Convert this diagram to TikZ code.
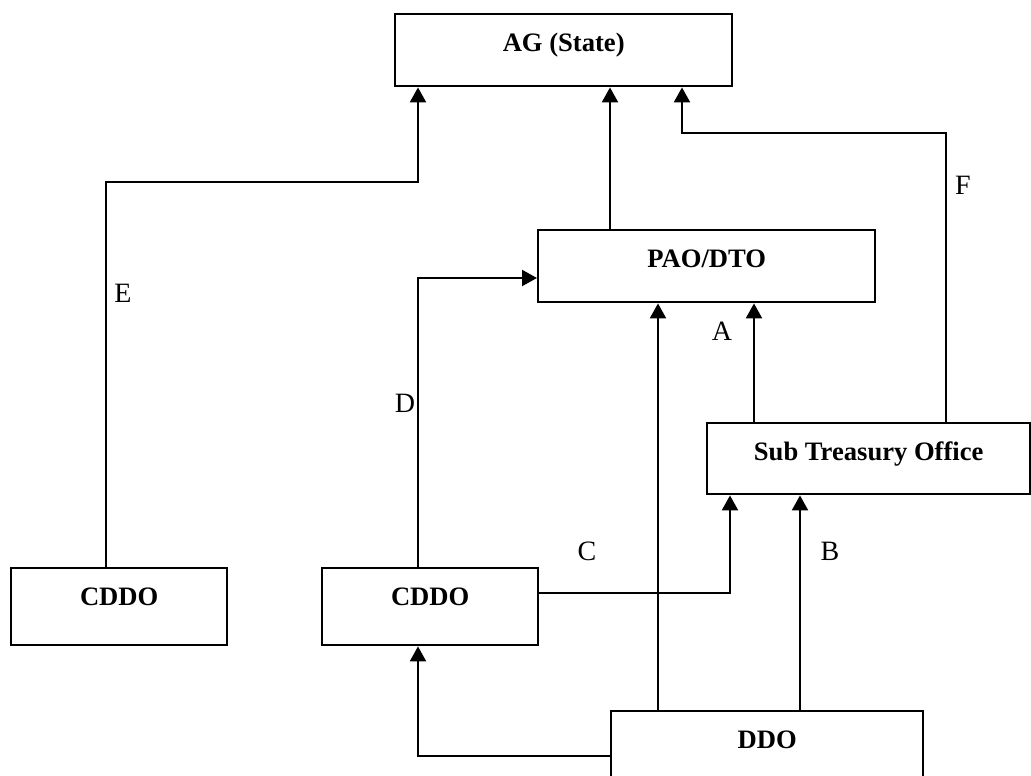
\documentclass[tikz,border=0pt]{standalone}
\usepackage{fontspec}
\setmainfont{Liberation Serif}
\usetikzlibrary{arrows.meta,positioning}

\begin{document}
\begin{tikzpicture}[
    x=1pt, y=-1pt,
    every node/.style={font=\fontsize{28}{32}\selectfont},
    % Office boxes with bold caption near the top
    office/.style={
        rectangle,
        draw=black,
        line width=2.4pt,
        font=\fontsize{26.6}{30}\selectfont\bfseries,
        anchor=north west,
        inner sep=0pt,
        text height=37.5pt,
        text depth=34.5pt
    },
    flow/.style={line width=2.2pt, -{Triangle[length=15pt, width=16pt]}},
    tag/.style={inner sep=0pt}
]

% Page frame
\useasboundingbox (0,0) rectangle (1031,776);
\clip (0,0) rectangle (1031,776);

% Offices
\node[office, minimum width=337pt] (ag) at (394,13) {AG (State)};
\node[office, minimum width=337pt] (pao) at (537,229) {PAO/DTO};
\node[office, minimum width=323pt, text depth=33.5pt] (sto) at (706,422) {Sub Treasury Office};
\node[office, minimum width=216pt, text depth=39.5pt] (cddoL) at (10,567) {CDDO};
\node[office, minimum width=216pt, text depth=39.5pt] (cddoR) at (321,567) {CDDO};
\node[office, minimum width=312pt, text depth=44.5pt] (ddo) at (610,710) {DDO};

% Bends of the connectors
\coordinate (eTurn) at (106,182);
\coordinate (eKnee) at (418,182);
\coordinate (dTurn) at (418,278);
\coordinate (paoUp) at (610,160);
\coordinate (fTurn) at (946,133);
\coordinate (fKnee) at (682,133);
\coordinate (aUp) at (754,360);
\coordinate (ddoUp) at (658,500);
\coordinate (bUp) at (800,600);
\coordinate (cTurn) at (730,593);
\coordinate (ddTurn) at (418,756);

% Connectors
\draw[flow] (eTurn |- cddoL.north) -- (eTurn) -- (eKnee) -- (eKnee |- ag.south);
\draw[flow] (paoUp |- pao.north) -- (paoUp |- ag.south);
\draw[flow] (fTurn |- sto.north) -- (fTurn) -- (fKnee) -- (fKnee |- ag.south);
\draw[flow] (dTurn |- cddoR.north) -- (dTurn) -- (dTurn -| pao.west);
\draw[flow] (aUp |- sto.north) -- (aUp |- pao.south);
\draw[flow] (ddoUp |- ddo.north) -- (ddoUp |- pao.south);
\draw[flow] (bUp |- ddo.north) -- (bUp |- sto.south);
\draw[flow] (cTurn -| cddoR.east) -- (cTurn) -- (cTurn |- sto.south);
\draw[flow] (ddTurn -| ddo.west) -- (ddTurn) -- (ddTurn |- cddoR.south);

% Letters on the flows
\node[tag] (labE) at (123,293) {E};
\node[tag] (labD) at (405,403) {D};
\node[tag] (labA) at (722,331) {A};
\node[tag] (labC) at (587,551) {C};
\node[tag] (labB) at (830,551) {B};
\node[tag] (labF) at (963,185) {F};

\end{tikzpicture}
\end{document}
